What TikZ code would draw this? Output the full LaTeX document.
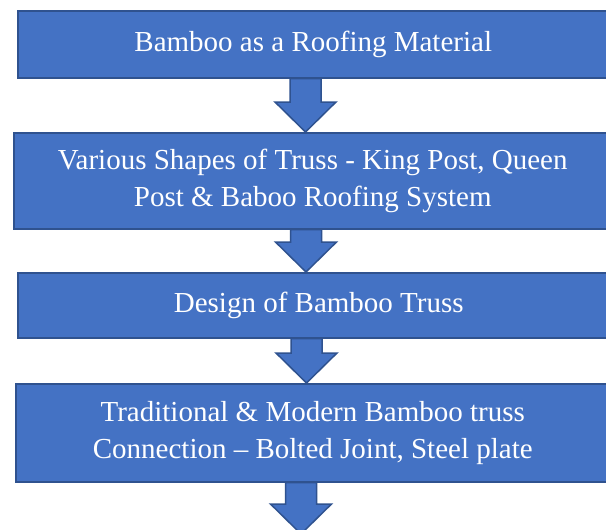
\documentclass[tikz,border=0pt]{standalone}
\usepackage{fontspec}
\setmainfont{Liberation Serif}
\usetikzlibrary{calc}
\definecolor{boxfill}{HTML}{4472C4}
\definecolor{boxline}{HTML}{2F528F}
\tikzset{
  flowbox/.style={draw=boxline, fill=boxfill, line width=1.5pt, text=white,
    font=\fontsize{29}{37}\selectfont, align=center, inner sep=0pt, anchor=north west},
  blockarrow/.style={draw=boxline, fill=boxfill, line width=1.5pt, line join=miter}
}
\newcommand\flowarrow[3]{%
  \draw[blockarrow]
    ($(#1.south -| #3)+(-15.5,0)$) --
    ($(#2 -| #3)+(-15.5,-30)$) --
    ($(#2 -| #3)+(-30.5,-30)$) --
    (#2 -| #3) --
    ($(#2 -| #3)+(30.5,-30)$) --
    ($(#2 -| #3)+(15.5,-30)$) --
    ($(#1.south -| #3)+(15.5,0)$) -- cycle;}
\begin{document}
\begin{tikzpicture}[x=1pt,y=-1pt]
\useasboundingbox (0,0) rectangle (606,530);
\clip (0,0) rectangle (606,530);
\fill[white] (0,0) rectangle (606,530);
% arrow axis positions
\coordinate (x1) at (305.5,0);
\coordinate (x2) at (306,0);
\coordinate (x3) at (306.5,0);
\coordinate (x4) at (301,0);
\coordinate (e4) at (301,534);
% boxes (positions only, drawn after arrows)
\path
  node[flowbox, minimum width=591, minimum height=67] (b1) at (17,10) {}
  node[flowbox, minimum width=598, minimum height=96] (b2) at (13,132) {}
  node[flowbox, minimum width=602, minimum height=65] (b3) at (17,272) {}
  node[flowbox, minimum width=594, minimum height=98] (b4) at (15,383) {};
\flowarrow{b1}{b2.north}{x1}
\flowarrow{b2}{b3.north}{x2}
\flowarrow{b3}{b4.north}{x3}
\flowarrow{b4}{e4}{x4}
\node[flowbox, minimum width=591, minimum height=67] (t1) at (17,10) {Bamboo as a Roofing Material};
\node[flowbox, minimum width=598, minimum height=96] (t2) at (13,132) {Various Shapes of Truss - King Post, Queen\\Post \& Baboo Roofing System};
\node[flowbox, minimum width=602, minimum height=65] (t3) at (17,272) {Design of Bamboo Truss};
\node[flowbox, minimum width=594, minimum height=98] (t4) at (15,383) {Traditional \& Modern Bamboo truss\\Connection – Bolted Joint, Steel plate};
\end{tikzpicture}
\end{document}
